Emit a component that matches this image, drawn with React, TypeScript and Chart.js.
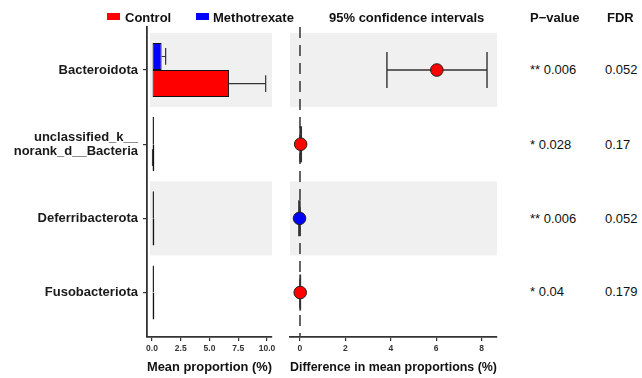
import React, { useEffect, useRef } from "react";
import { Chart, registerables } from "chart.js";
Chart.register(...registerables);

const categories: (string | string[])[] = [
  "Bacteroidota",
  ["unclassified_k__", "norank_d__Bacteria"],
  "Deferribacterota",
  "Fusobacteriota",
];
const controlMean = [6.7, 0.03, 0.02, 0.01];
const controlErr = [3.18, 0.02, 0, 0];
const mtxMean = [0.84, 0.01, 0.03, 0.01];
const mtxErr = [0.35, 0, 0, 0];
const diffMean = [6.03, 0.03, -0.02, 0.01];
const ciLow = [3.83, 0.0, -0.05, 0.0];
const ciHigh = [8.24, 0.06, 0.0, 0.02];
const pointGroup = ["Control", "Control", "Methotrexate", "Control"];
const pValues = ["** 0.006", "* 0.028", "** 0.006", "* 0.04"];
const fdrValues = ["0.052", "0.17", "0.052", "0.179"];
const leftTicks = [0, 2.5, 5, 7.5, 10];
const rightTicks = [0, 2, 4, 6, 8];
const shadedRows = [0, 2];

const RED = "#ff0000";
const BLUE = "#0000ff";
const BAND = "#f0f0f0";
const AXIS = "#333333";
const FONT = "'Liberation Sans', Arial, sans-serif";

const yMin = -0.58;
const yMax = 3.6;

function bandPlugin(xFrom: number | null) {
  return {
    id: "bands",
    beforeDatasetsDraw(chart: any) {
      const { ctx, chartArea, scales } = chart;
      const ys = scales.y;
      const left = xFrom === null ? chartArea.left : scales.x.getPixelForValue(xFrom);
      ctx.save();
      ctx.fillStyle = BAND;
      shadedRows.forEach((r) => {
        const t = ys.getPixelForValue(r - 0.5);
        const b = ys.getPixelForValue(r + 0.5);
        ctx.fillRect(left, Math.min(t, b), chartArea.right - left, Math.abs(b - t));
      });
      ctx.restore();
    },
  };
}

const errorBarPlugin = {
  id: "errbars",
  afterDatasetsDraw(chart: any) {
    const { ctx, scales } = chart;
    const xs = scales.x;
    const sets = [
      { means: mtxMean, errs: mtxErr },
      { means: controlMean, errs: controlErr },
    ];
    ctx.save();
    ctx.strokeStyle = AXIS;
    ctx.lineWidth = 1.2;
    sets.forEach((s, di) => {
      const meta = chart.getDatasetMeta(di);
      meta.data.forEach((bar: any, i: number) => {
        const e = s.errs[i];
        if (!e) return;
        const x0 = xs.getPixelForValue(s.means[i]);
        const x1 = xs.getPixelForValue(s.means[i] + e);
        const y = bar.y;
        const h = bar.height * 0.31;
        ctx.beginPath();
        ctx.moveTo(x0, y);
        ctx.lineTo(x1, y);
        ctx.moveTo(x1, y - h);
        ctx.lineTo(x1, y + h);
        ctx.stroke();
      });
    });
    ctx.restore();
  },
};

const ciPlugin = {
  id: "ci",
  beforeDatasetsDraw(chart: any) {
    const { ctx, scales, chartArea } = chart;
    const xs = scales.x;
    const ys = scales.y;
    ctx.save();
    const zx = xs.getPixelForValue(0);
    ctx.strokeStyle = AXIS;
    ctx.lineWidth = 1.5;
    ctx.setLineDash([11, 7]);
    ctx.beginPath();
    ctx.moveTo(zx, chartArea.top);
    ctx.lineTo(zx, chartArea.bottom);
    ctx.stroke();
    ctx.setLineDash([]);
    ctx.lineWidth = 1.4;
    diffMean.forEach((_, i) => {
      const y = ys.getPixelForValue(i);
      const a = xs.getPixelForValue(ciLow[i]);
      const b = xs.getPixelForValue(ciHigh[i]);
      ctx.beginPath();
      ctx.moveTo(a, y);
      ctx.lineTo(b, y);
      ctx.moveTo(a, y - 18);
      ctx.lineTo(a, y + 18);
      ctx.moveTo(b, y - 18);
      ctx.lineTo(b, y + 18);
      ctx.stroke();
    });
    ctx.restore();
  },
};

export default function App() {
  const leftRef = useRef<HTMLCanvasElement>(null);
  const rightRef = useRef<HTMLCanvasElement>(null);

  useEffect(() => {
    Chart.defaults.font.family = FONT;
    const tickFont = { family: FONT, size: 8.5, weight: "bold" as const };
    const titleFont = { family: FONT, size: 13, weight: "bold" as const };

    const left = new Chart(leftRef.current!, {
      type: "bar",
      data: {
        datasets: [
          {
            label: "Methotrexate",
            data: mtxMean.map((v, i) => ({ x: v, y: i })),
            backgroundColor: BLUE,
            borderColor: "#111",
            borderWidth: 1,
            borderSkipped: false,
            minBarLength: 2,
          },
          {
            label: "Control",
            data: controlMean.map((v, i) => ({ x: v, y: i })),
            backgroundColor: RED,
            borderColor: "#111",
            borderWidth: 1,
            borderSkipped: false,
            minBarLength: 2.4,
          },
        ],
      },
      options: {
        indexAxis: "y",
        responsive: false,
        animation: false,
        devicePixelRatio: 1,
        categoryPercentage: 0.73,
        barPercentage: 1,
        layout: { padding: { top: 27, right: 8, left: 0, bottom: 0 } },
        plugins: { legend: { display: false }, tooltip: { enabled: false } },
        scales: {
          y: {
            type: "linear",
            min: yMin,
            max: yMax,
            reverse: true,
            offset: false,
            afterBuildTicks: (s: any) => {
              s.ticks = categories.map((_, i) => ({ value: i }));
            },
            afterFit: (s: any) => {
              s.width = 147;
            },
            ticks: {
              callback: (v: any) => categories[v as number],
              font: { family: FONT, size: 13, weight: "bold", lineHeight: 1.1 },
              color: "#1a1a1a",
              padding: 5,
            },
            grid: { offset: false, drawOnChartArea: false, drawTicks: true, tickLength: 4, color: AXIS, lineWidth: 1.2 },
            border: { display: true, color: AXIS, width: 1.8 },
          },
          x: {
            type: "linear",
            min: -0.43,
            max: 10.43,
            afterBuildTicks: (s: any) => {
              s.ticks = leftTicks.map((v) => ({ value: v }));
            },
            afterFit: (s: any) => {
              s.height = 41;
            },
            ticks: {
              callback: (v: any) => Number(v).toFixed(1),
              font: tickFont,
              color: "#333",
              padding: 3,
              maxRotation: 0,
            },
            grid: { drawOnChartArea: false, drawTicks: true, tickLength: 4, color: AXIS, lineWidth: 1.2 },
            border: { display: true, color: AXIS, width: 1.8 },
            title: {
              display: true,
              text: "Mean proportion (%)",
              font: titleFont,
              color: "#111",
              padding: { top: 0, bottom: 3 },
            },
          },
        },
      } as any,
      plugins: [bandPlugin(-0.17), errorBarPlugin],
    });

    const right = new Chart(rightRef.current!, {
      type: "scatter",
      data: {
        datasets: [
          {
            label: "diff",
            data: diffMean.map((v, i) => ({ x: v, y: i })),
            pointBackgroundColor: pointGroup.map((g) => (g === "Control" ? RED : BLUE)),
            pointBorderColor: "#222",
            pointBorderWidth: 1,
            pointRadius: 6.3,
          },
        ],
      },
      options: {
        responsive: false,
        animation: false,
        devicePixelRatio: 1,
        layout: { padding: { top: 27, right: 13, left: 10, bottom: 0 } },
        plugins: { legend: { display: false }, tooltip: { enabled: false } },
        scales: {
          y: { type: "linear", min: yMin, max: yMax, reverse: true, display: false },
          x: {
            type: "linear",
            min: -0.44,
            max: 8.68,
            afterBuildTicks: (s: any) => {
              s.ticks = rightTicks.map((v) => ({ value: v }));
            },
            afterFit: (s: any) => {
              s.height = 41;
            },
            ticks: { font: tickFont, color: "#333", padding: 3, maxRotation: 0 },
            grid: { drawOnChartArea: false, drawTicks: true, tickLength: 4, color: AXIS, lineWidth: 1.2 },
            border: { display: true, color: AXIS, width: 1.8 },
            title: {
              display: true,
              text: "Difference in mean proportions (%)",
              font: titleFont,
              color: "#111",
              padding: { top: 0, bottom: 3 },
            },
          },
        },
      } as any,
      plugins: [bandPlugin(null), ciPlugin],
    });

    return () => {
      left.destroy();
      right.destroy();
    };
  }, []);

  const textBase: React.CSSProperties = {
    position: "absolute",
    fontFamily: FONT,
    fontSize: 13,
    color: "#111",
    whiteSpace: "nowrap",
    lineHeight: "15px",
    transform: "translateY(-50%)",
  };
  const bold: React.CSSProperties = { ...textBase, fontWeight: "bold" };
  const rowY = [69, 144, 218, 291];

  return (
    <div style={{ position: "fixed", left: 0, top: 0, width: 642, height: 378, background: "#fff", overflow: "hidden" }}>
      <canvas ref={leftRef} width={280} height={378} style={{ position: "absolute", left: 0, top: 0 }} />
      <canvas ref={rightRef} width={230} height={378} style={{ position: "absolute", left: 280, top: 0 }} />
      <div style={{ position: "absolute", left: 107, top: 13, width: 13, height: 7, background: RED }} />
      <div style={{ ...bold, left: 125, top: 17 }}>Control</div>
      <div style={{ position: "absolute", left: 196, top: 13, width: 13, height: 7, background: BLUE }} />
      <div style={{ ...bold, left: 213, top: 17 }}>Methotrexate</div>
      <div style={{ ...bold, left: 329, top: 17 }}>95% confidence intervals</div>
      <div style={{ ...bold, left: 530, top: 17 }}>P−value</div>
      <div style={{ ...bold, left: 607, top: 17 }}>FDR</div>
      {pValues.map((p, i) => (
        <div key={"p" + i} style={{ ...textBase, left: 530, top: rowY[i] }}>
          {p}
        </div>
      ))}
      {fdrValues.map((f, i) => (
        <div key={"f" + i} style={{ ...textBase, left: 605, top: rowY[i] }}>
          {f}
        </div>
      ))}
    </div>
  );
}
